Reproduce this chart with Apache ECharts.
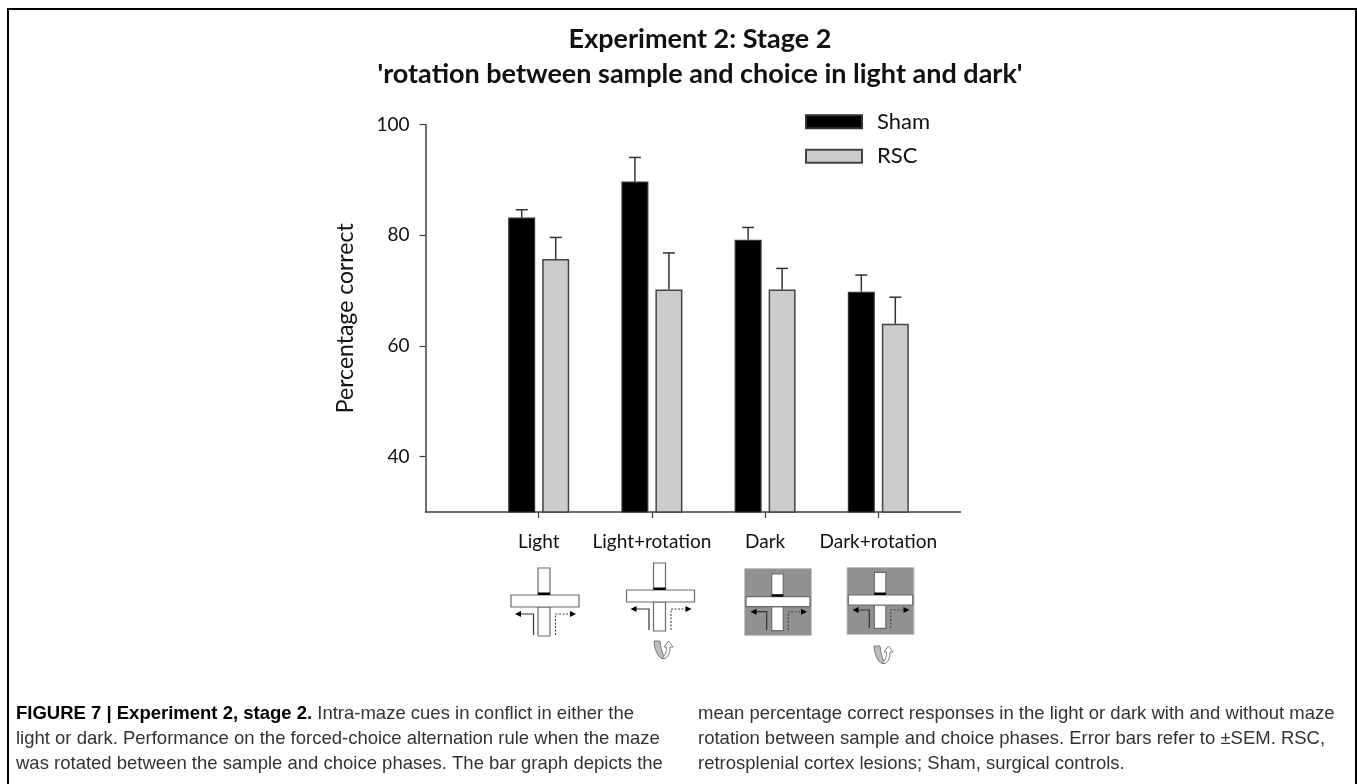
<!DOCTYPE html>
<html><head><meta charset="utf-8">
<style>html,body{margin:0;padding:0;background:#fff}#c{width:1357px;height:784px}</style>
<script src="https://cdn.jsdelivr.net/npm/echarts@6/dist/echarts.min.js"></script>
</head><body><div id="c"></div>
<script>
const categories = ['Light', 'Light+rotation', 'Dark', 'Dark+rotation'];
const positions = [1, 2, 3, 4];
const yTicks = [40, 60, 80, 100];
const sham = [83.2, 89.7, 79.2, 69.8];
const rsc = [75.7, 70.2, 70.2, 64.0];
const shamErrTop = [84.6, 94.05, 81.4, 72.8];
const rscErrTop = [79.6, 76.8, 74.0, 68.8];

const captionLeft = [
  '{b|FIGURE 7 | Experiment 2, stage 2.} Intra-maze cues in conflict in either the',
  'light or dark. Performance on the forced-choice alternation rule when the maze',
  'was rotated between the sample and choice phases. The bar graph depicts the'
];
const captionRight = [
  'mean percentage correct responses in the light or dark with and without maze',
  'rotation between sample and choice phases. Error bars refer to \u00B1SEM. RSC,',
  'retrosplenial cortex lesions; Sham, surgical controls.'
];

const FONT = 'Lato';
const AXIS = '#404040';
const OFFSET = 17;

function errorSeries(name, base, tops, dx) {
  return {
    type: 'custom', name, silent: true, z: 3,
    data: positions.map((p, i) => [p, base[i], tops[i]]),
    encode: { x: 0, y: [1, 2] },
    renderItem(params, api) {
      const a = api.coord([api.value(0), api.value(1)]);
      const b = api.coord([api.value(0), api.value(2)]);
      const x = a[0] + dx;
      const st = { stroke: '#333', lineWidth: 1.5, fill: null };
      return { type: 'group', children: [
        { type: 'line', shape: { x1: x, y1: a[1], x2: x, y2: b[1] }, style: st },
        { type: 'line', shape: { x1: x - 6, y1: b[1], x2: x + 6, y2: b[1] }, style: st }
      ]};
    }
  };
}

const bandShape = [[0,0],[0.5,5],[2,10],[4.5,15],[8,17.5],[11,17.5],[8.5,12],[6.8,6],[6,0]];
const arrowShape = [[8,17.5],[11,14],[12.3,10],[12.5,6],[10,6],[14.5,0],[19,6],[16,6],[15.7,11],[14,15],[11,17.5]];

function maze(m) {
  const out = [];
  const line = '#6a6a6a';
  if (m.bg) out.push({ type: 'rect', shape: { x: m.bg[0], y: m.bg[1], width: m.bg[2], height: m.bg[3] }, style: { fill: '#919191', stroke: '#c4c4c4', lineWidth: 1 } });
  const box = (x, y, w, h) => ({ type: 'rect', shape: { x, y, width: w, height: h }, style: { fill: '#fff', stroke: line, lineWidth: 1.2 } });
  out.push(box(m.sx, m.topY, m.sw, m.hy - m.topY));
  out.push(box(m.sx, m.hy + m.hh, m.sw, m.botY - m.hy - m.hh));
  out.push(box(m.hx, m.hy, m.hw, m.hh));
  out.push({ type: 'rect', shape: { x: m.sx, y: m.hy - 2.5, width: m.sw, height: 2.5 }, style: { fill: '#000' } });
  out.push({ type: 'polyline', shape: { points: [[m.lx, m.arrBot], [m.lx, m.arrY], [m.lEnd + 5, m.arrY]] }, style: { stroke: '#333', lineWidth: 1.2, fill: null } });
  out.push({ type: 'polygon', shape: { points: [[m.lEnd, m.arrY], [m.lEnd + 6, m.arrY - 3], [m.lEnd + 6, m.arrY + 3]] }, style: { fill: '#000' } });
  out.push({ type: 'polyline', shape: { points: [[m.rx, m.arrBot], [m.rx, m.arrY], [m.rEnd - 5, m.arrY]] }, style: { stroke: '#444', lineWidth: 1.1, lineDash: [2, 1.5], fill: null } });
  out.push({ type: 'polygon', shape: { points: [[m.rEnd, m.arrY], [m.rEnd - 6, m.arrY - 3], [m.rEnd - 6, m.arrY + 3]] }, style: { fill: '#000' } });
  if (m.rot) {
    out.push({ type: 'polygon', x: m.rot[0], y: m.rot[1], shape: { points: bandShape }, style: { fill: '#bdbdbd', stroke: '#666', lineWidth: 0.8 } });
    out.push({ type: 'polygon', x: m.rot[0], y: m.rot[1], shape: { points: arrowShape }, style: { fill: '#fff', stroke: '#666', lineWidth: 0.8 } });
  }
  return out;
}

const mazes = [
  { sx: 538, sw: 12, topY: 568, hx: 511, hw: 68, hy: 595, hh: 12, botY: 636, lx: 533.5, rx: 555.5, arrY: 614, arrBot: 635, lEnd: 515, rEnd: 576 },
  { sx: 653.5, sw: 12, topY: 563, hx: 626.5, hw: 68, hy: 590, hh: 12, botY: 631, lx: 649, rx: 671, arrY: 609, arrBot: 630, lEnd: 630.5, rEnd: 691.5, rot: [654, 641] },
  { bg: [744.5, 568.5, 67, 67], sx: 771.7, sw: 11.6, topY: 574, hx: 746, hw: 64, hy: 596.7, hh: 10, botY: 630.7, lx: 766.7, rx: 788.3, arrY: 611.7, arrBot: 630, lEnd: 750.5, rEnd: 807 },
  { bg: [847, 567.5, 67, 67], sx: 874.3, sw: 11.6, topY: 572.3, hx: 848.3, hw: 64.4, hy: 595, hh: 10, botY: 628.3, lx: 869.3, rx: 890.7, arrY: 610, arrBot: 628, lEnd: 852.5, rEnd: 909.5, rot: [874, 646] }
];

const frame = [
  { type: 'rect', shape: { x: 7, y: 8, width: 2, height: 776 }, style: { fill: '#000' } },
  { type: 'rect', shape: { x: 7, y: 8, width: 1350, height: 2 }, style: { fill: '#000' } },
  { type: 'rect', shape: { x: 1355, y: 8, width: 2, height: 776 }, style: { fill: '#000' } }
];

const capStyle = { fontFamily: 'Liberation Sans', fontSize: 18.5, fill: '#333', lineHeight: 25.3 };
const captions = [
  { type: 'text', left: 16, top: 701, style: Object.assign({}, capStyle, {
      text: captionLeft.join('\n'),
      rich: { b: { fontFamily: 'Liberation Sans', fontWeight: 'bold', fontSize: 18.5, fill: '#000', lineHeight: 25.3 } } }) },
  { type: 'text', left: 698, top: 701, style: Object.assign({}, capStyle, { text: captionRight.join('\n') }) }
];

const chart = echarts.init(document.getElementById('c'), null, { renderer: 'canvas' });
chart.setOption({
  animation: false,
  backgroundColor: '#fff',
  title: {
    text: "Experiment 2: Stage 2\n'rotation between sample and choice in light and dark'",
    left: 695, top: 17, textAlign: 'center',
    textStyle: { fontFamily: FONT, fontWeight: 'bold', fontSize: 27, lineHeight: 35, color: '#111' }
  },
  legend: {
    orient: 'vertical', left: 805, top: 110.7, padding: 0, itemWidth: 56, itemHeight: 13, itemGap: 12.5,
    data: ['Sham', 'RSC'], icon: 'rect', selectedMode: false,
    textStyle: { fontFamily: FONT, fontSize: 22, color: '#111', padding: [3, 0, 0, 10] }
  },
  grid: { left: 425.5, top: 124.5, width: 535, height: 387.5, containLabel: false },
  xAxis: {
    type: 'value', min: 0, max: 4.726, interval: 1,
    splitLine: { show: false },
    axisLine: { onZero: false, lineStyle: { color: AXIS, width: 1.5 } },
    axisTick: { show: true, length: 6, customValues: positions, lineStyle: { color: AXIS, width: 1.2 } },
    axisLabel: { customValues: positions, margin: 20, fontFamily: FONT, fontSize: 19, color: '#111',
      formatter: v => categories[v - 1] || '' }
  },
  yAxis: {
    type: 'value', min: 30, max: 100, interval: 10,
    name: 'Percentage correct', nameLocation: 'middle', nameGap: 68,
    nameTextStyle: { fontFamily: FONT, fontSize: 23, color: '#111' },
    splitLine: { show: false },
    axisLine: { onZero: false, lineStyle: { color: AXIS, width: 1.5 } },
    axisTick: { show: true, length: 6, customValues: yTicks, lineStyle: { color: AXIS, width: 1.2 } },
    axisLabel: { customValues: yTicks, margin: 16, fontFamily: FONT, fontSize: 19, color: '#111' }
  },
  series: [
    { type: 'bar', name: 'Sham', barWidth: 27, barGap: '26%', z: 2,
      data: positions.map((p, i) => [p, sham[i]]),
      itemStyle: { color: '#000', borderColor: '#333', borderWidth: 1.2 } },
    { type: 'bar', name: 'RSC', barWidth: 27, barGap: '26%', z: 2,
      data: positions.map((p, i) => [p, rsc[i]]),
      itemStyle: { color: '#cccccc', borderColor: '#444', borderWidth: 1.5 } },
    errorSeries('ShamErr', sham, shamErrTop, -OFFSET),
    errorSeries('RSCErr', rsc, rscErrTop, OFFSET)
  ],
  graphic: { elements: [].concat(frame, ...mazes.map(maze), captions) }
});
</script></body></html>
